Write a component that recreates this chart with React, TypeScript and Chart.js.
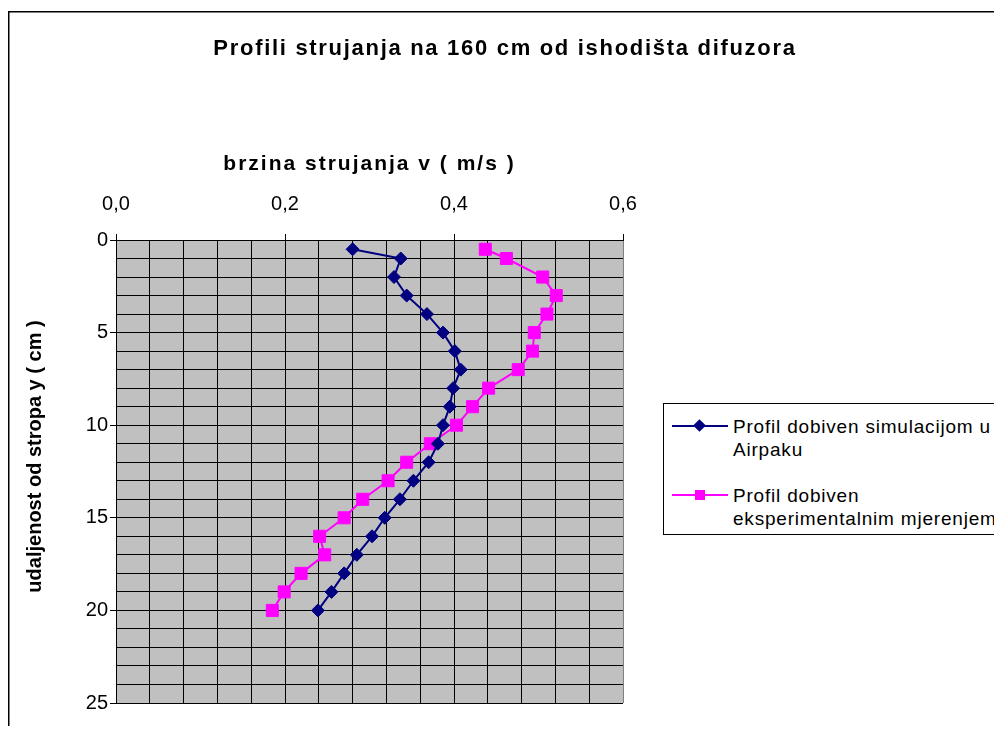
import React, { useEffect, useRef } from 'react';
import { Chart, registerables } from 'chart.js';

Chart.register(...registerables);

// ---- data ----
const depthsCm = [0.5, 1, 2, 3, 4, 5, 6, 7, 8, 9, 10, 11, 12, 13, 14, 15, 16, 17, 18, 19, 20];
const simulationSpeeds = [0.280, 0.337, 0.329, 0.344, 0.368, 0.387, 0.401, 0.408, 0.399, 0.395, 0.387, 0.381, 0.370, 0.352, 0.336, 0.318, 0.303, 0.285, 0.270, 0.255, 0.239];
const experimentSpeeds = [0.437, 0.462, 0.505, 0.521, 0.510, 0.495, 0.493, 0.476, 0.441, 0.422, 0.403, 0.372, 0.344, 0.322, 0.292, 0.270, 0.241, 0.247, 0.219, 0.199, 0.185];
const seriesNames = ['Profil dobiven simulacijom u Airpaku', 'Profil dobiven eksperimentalnim mjerenjem'];
const legendLines = [['Profil dobiven simulacijom u', 'Airpaku'], ['Profil dobiven', 'eksperimentalnim mjerenjem']];
const chartTitle = 'Profili strujanja na 160 cm od ishodišta difuzora';
const xAxisTitle = 'brzina strujanja v ( m/s )';
const yAxisTitle = 'udaljenost od stropa y ( cm )';
const xRange = [0, 0.6];
const xGridStep = 0.04;
const xLabelStep = 0.2;
const yRange = [0, 25];
const yGridStep = 1;
const yLabelStep = 5;

// ---- layout ----
const W = 994;
const H = 718;
const PLOT_LEFT = 108;
const PLOT_RIGHT = 615;
const PLOT_TOP = 232;
const PLOT_BOTTOM = 695;
const TITLE_FONT = 22;
const TITLE_PAD_TOP = 28;
const TITLE_H = TITLE_FONT * 1.2 + TITLE_PAD_TOP;
const FONT = "'Liberation Sans', Arial, sans-serif";
const NAVY = '#000080';
const MAGENTA = '#FF00FF';

const isMultiple = (v: number, step: number) => Math.abs(v / step - Math.round(v / step)) < 1e-6;

function patchDraw(obj: any, method: string, fn: (c: CanvasRenderingContext2D) => void) {
  if (!obj || obj['__p_' + method]) return;
  const orig = obj[method];
  obj[method] = function (...args: any[]) {
    const c = this.ctx as CanvasRenderingContext2D;
    c.save();
    fn(c);
    orig.apply(this, args);
    c.restore();
  };
  obj['__p_' + method] = true;
}

const decorPlugin = {
  id: 'decor',
  beforeDraw(chart: any) {
    const { ctx, chartArea: a } = chart;
    ctx.save();
    ctx.fillStyle = '#C0C0C0';
    ctx.fillRect(a.left, a.top, a.right - a.left, a.bottom - a.top);
    ctx.strokeStyle = '#000';
    ctx.lineWidth = 1.5;
    ctx.beginPath();
    ctx.moveTo(0.75, chart.height);
    ctx.lineTo(0.75, 3.75);
    ctx.lineTo(chart.width, 3.75);
    ctx.stroke();
    ctx.restore();
    patchDraw(chart.titleBlock, 'draw', (c) => { (c as any).letterSpacing = '1.7px'; });
    patchDraw(chart.scales.x, 'drawTitle', (c) => { (c as any).letterSpacing = '2px'; });
    patchDraw(chart.scales.y, 'drawTitle', (c) => { c.translate(0, -15); });
  },
};

export default function App() {
  const ref = useRef<HTMLCanvasElement | null>(null);

  useEffect(() => {
    if (!ref.current) return;
    const chart = new Chart(ref.current, {
      type: 'scatter',
      data: {
        datasets: [
          {
            label: seriesNames[0],
            data: depthsCm.map((d, i) => ({ x: simulationSpeeds[i], y: d })),
            showLine: true,
            borderColor: NAVY,
            backgroundColor: NAVY,
            borderWidth: 2,
            pointStyle: 'rectRot',
            pointRadius: 6.5,
            pointHoverRadius: 6.5,
            pointBorderWidth: 1,
            xAxisID: 'x',
            yAxisID: 'y',
          },
          {
            label: seriesNames[1],
            data: depthsCm.map((d, i) => ({ x: experimentSpeeds[i], y: d })),
            showLine: true,
            borderColor: MAGENTA,
            backgroundColor: MAGENTA,
            borderWidth: 2,
            pointStyle: 'rect',
            pointRadius: 8.5,
            pointHoverRadius: 8.5,
            pointBorderWidth: 1,
            xAxisID: 'x',
            yAxisID: 'y',
          },
        ],
      },
      options: {
        responsive: false,
        animation: false,
        devicePixelRatio: 1,
        layout: { padding: { left: 0, top: 0, right: 0, bottom: H - PLOT_BOTTOM } },
        plugins: {
          legend: { display: false },
          tooltip: { enabled: false },
          title: {
            display: true,
            text: chartTitle,
            color: '#000',
            font: { family: FONT, size: TITLE_FONT, weight: 'bold', lineHeight: 1.2 },
            padding: { top: TITLE_PAD_TOP, bottom: 0 },
          },
        },
        scales: {
          x: {
            type: 'linear',
            position: 'top',
            min: xRange[0],
            max: xRange[1],
            afterFit: (s: any) => { s.height = PLOT_TOP - TITLE_H; },
            ticks: {
              stepSize: xGridStep,
              autoSkip: false,
              maxRotation: 0,
              padding: 18,
              color: '#000',
              font: { family: FONT, size: 20, lineHeight: 1.2 },
              callback: (v: any) => (isMultiple(Number(v), xLabelStep) ? Number(v).toFixed(1).replace('.', ',') : ''),
            },
            grid: {
              color: (c: any) => (c.index === Math.round((xRange[1] - xRange[0]) / xGridStep) ? '#808080' : '#000'),
              lineWidth: 1,
              tickLength: 6,
              tickColor: (c: any) => (c.tick && isMultiple(c.tick.value, xLabelStep) ? '#000' : 'rgba(0,0,0,0)'),
            },
            border: { color: '#000', width: 1 },
            title: {
              display: true,
              text: xAxisTitle,
              color: '#000',
              font: { family: FONT, size: 21, weight: 'bold', lineHeight: 1.2 },
              padding: { top: 89, bottom: 0 },
            },
          },
          y: {
            type: 'linear',
            position: 'left',
            reverse: true,
            min: yRange[0],
            max: yRange[1],
            afterFit: (s: any) => { s.width = PLOT_LEFT; },
            ticks: {
              stepSize: yGridStep,
              autoSkip: false,
              padding: 2,
              color: '#000',
              font: { family: FONT, size: 20, lineHeight: 1.2 },
              callback: (v: any) => (isMultiple(Number(v), yLabelStep) ? String(Math.round(Number(v))) : ''),
            },
            grid: {
              color: (c: any) => (c.index === Math.round((yRange[1] - yRange[0]) / yGridStep) ? '#808080' : '#000'),
              lineWidth: 1,
              tickLength: 6,
              tickColor: (c: any) => (c.tick && isMultiple(c.tick.value, yLabelStep) ? '#000' : 'rgba(0,0,0,0)'),
            },
            border: { color: '#000', width: 1 },
            title: {
              display: true,
              text: yAxisTitle,
              color: '#000',
              font: { family: FONT, size: 20, weight: 'bold', lineHeight: 1.2 },
              padding: { top: 15, bottom: 0 },
            },
          },
          yRight: {
            type: 'linear',
            position: 'right',
            display: true,
            afterFit: (s: any) => { s.width = W - PLOT_RIGHT; },
            ticks: { display: false },
            grid: { display: false, drawTicks: false },
            border: { display: false },
          },
        },
      } as any,
      plugins: [decorPlugin],
    });
    return () => chart.destroy();
  }, []);

  const textStyle: React.CSSProperties = {
    position: 'absolute',
    left: 69,
    fontFamily: FONT,
    fontSize: 19,
    lineHeight: '23px',
    letterSpacing: '0.8px',
    whiteSpace: 'nowrap',
    color: '#000',
  };

  return (
    <div style={{ position: 'relative', width: W, height: H, overflow: 'hidden' }}>
      <canvas ref={ref} width={W} height={H} style={{ display: 'block', width: W, height: H }} />
      <div
        style={{
          position: 'absolute',
          left: 655,
          top: 395,
          width: 400,
          height: 130,
          border: '1px solid #000',
          background: '#fff',
        }}
      >
        <div style={{ position: 'absolute', left: 8, top: 21, width: 56, height: 2, background: NAVY }} />
        <div style={{ position: 'absolute', left: 31, top: 17, width: 9, height: 9, background: NAVY, transform: 'rotate(45deg)' }} />
        <div style={{ ...textStyle, top: 11 }}>
          {legendLines[0].map((l, i) => (<div key={i}>{l}</div>))}
        </div>
        <div style={{ position: 'absolute', left: 8, top: 90, width: 56, height: 2, background: MAGENTA }} />
        <div style={{ position: 'absolute', left: 31, top: 86, width: 10, height: 10, background: MAGENTA }} />
        <div style={{ ...textStyle, top: 80 }}>
          {legendLines[1].map((l, i) => (<div key={i}>{l}</div>))}
        </div>
      </div>
    </div>
  );
}
